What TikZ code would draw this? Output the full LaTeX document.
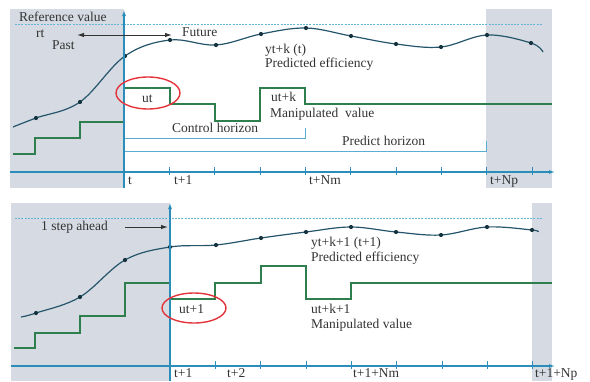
\documentclass[tikz,border=0pt]{standalone}
\usepackage{fontspec}
\setmainfont{Liberation Serif}
\usetikzlibrary{arrows.meta}
\definecolor{pastgray}{HTML}{D6DAE2}
\definecolor{axisblue}{HTML}{2B8DB9}
\definecolor{curveblue}{HTML}{24556B}
\definecolor{stepgreen}{HTML}{2F7F4E}
\definecolor{refblue}{HTML}{62B3D8}
\definecolor{ringred}{HTML}{E2343A}
\definecolor{txt}{HTML}{333333}
\def\dt{45.35}
\def\tip{{Latex[length=7pt,width=4.5pt]}}

\begin{document}
\begin{tikzpicture}[x=1pt,y=-1pt,every node/.style={font=\fontsize{13.5}{16}\selectfont,text=txt,inner sep=0pt,anchor=base west},
  ax/.style={axisblue,line width=1.1pt},
  refline/.style={refblue,line width=0.9pt,dash pattern=on 2pt off 1.2pt},
  outcurve/.style={curveblue,line width=1.2pt},
  ctrl/.style={stepgreen,line width=1.8pt},
  brk/.style={refblue!85!axisblue,line width=1pt},
  ring/.style={ringred,line width=1.4pt},
  ptr/.style={txt,line width=1pt}]
\useasboundingbox (0,0) rectangle (590,381);

%% upper panel: prediction at time t
\fill[pastgray] (10,9) rectangle (124,188);
\fill[pastgray] (486,9) rectangle (552,188);
\draw[refline] (15,24) -- (542,24);
\draw[outcurve] plot[smooth,tension=0.6] coordinates {(13,127) (36,118) (80,102) (125,56) (170,40) (216,45) (261,34) (306,28) (351,36) (396,44) (441,47) (487,35) (531,43) (543,52)};
\foreach \p in {(36,118),(80,102),(125,56),(170,40),(216,45),(261,34),(306,28),(351,36),(396,44),(441,47),(487,35),(531,43)}
  \fill[curveblue!60!black] \p circle (2.1pt);
\draw[ctrl] (13,154) -| (35,138) -| (80,122) -| (124,88) -| (170,104) -| (215,121) -| (260,88) -| (305,104) -- (552,104);
\draw[brk] (124,138) -- (305,138) -- (305,128);
\draw[brk] (124,151) -- (486,151) -- (486,141);
\draw[ax,-{Latex[length=6pt,width=4pt]}] (124,188) -- (124,10);
\draw[ax,-{Latex[length=6pt,width=4pt]}] (10,172) -- (555,172);
\foreach \i in {1,...,9} \draw[ax] ({124+\dt*\i},167) -- ++(0,8);
\draw[ring] (148,93) ellipse [x radius=32pt,y radius=16pt];
\coordinate (pastend) at (77,35);
\coordinate (futend) at (172,35);
\draw[ptr,\tip-\tip] (pastend) -- (futend);

\node (ref) at (19,21) {Reference value};
\node (rt) at (36,37) {rt};
\node (past) at (52,49) {Past};
\node (future) at (182,36.5) {Future};
\node (ut) at (142,102) {ut};
\node (ytk) at (265,53.5) {yt+k (t)};
\node (preda) at (265,67.5) {Predicted efficiency};
\node (utk) at (271,101.5) {ut+k};
\node (mana) at (270,117) {Manipulated~ value};
\node (ctrlh) at (172,132.5) {Control horizon};
\node (predh) at (342,145) {Predict horizon};
\node (lt) at (128,184.5) {t};
\node (lt1) at (174,184.5) {t+1};
\node (ltnm) at (309,184.5) {t+Nm};
\node (ltnp) at (490,184.5) {t+Np};
% <- end upper panel

%% lower panel: one step later
\fill[pastgray] (11,203) rectangle (170,381);
\fill[pastgray] (532,203) rectangle (552,381);
\draw[refline] (15,218) -- (542,218);
\draw[outcurve] plot[smooth,tension=0.6] coordinates {(21,317) (36,313) (80,297) (125,260) (170,247) (216,245) (261,238) (306,232) (351,227) (396,232) (441,235) (487,227) (532,230) (538,232)};
\foreach \p in {(36,313),(80,297),(125,260),(170,247),(216,245),(261,238),(306,232),(351,227),(396,232),(441,235),(487,227),(532,230)}
  \fill[curveblue!60!black] \p circle (2.1pt);
\draw[ctrl] (14,348) -| (35,333) -| (80,316) -| (125,283) -| (170,299) -| (215,283) -| (261,266) -| (306,299) -| (351,283) -- (552,283);
\draw[ax,-{Latex[length=6pt,width=4pt]}] (170,381) -- (170,203);
\draw[ax,-{Latex[length=6pt,width=4pt]}] (11,366) -- (555,366);
\foreach \i in {1,...,8} \draw[ax] ({170+\dt*\i},361) -- ++(0,8);
\draw[ring] (194,308) ellipse [x radius=32pt,y radius=15pt];
\coordinate (stepfrom) at (125,227);
\coordinate (stepto) at (168,227);
\draw[ptr,-\tip] (stepfrom) -- (stepto);

\node (ahead) at (41,230) {1 step ahead};
\node (ytk1) at (311,246) {yt+k+1 (t+1)};
\node (predb) at (311,261) {Predicted efficiency};
\node (ut1) at (179,313) {ut+1};
\node (utk1) at (311,313) {ut+k+1};
\node (manb) at (311,328) {Manipulated value};
\node (lbt1) at (174,377.5) {t+1};
\node (lbt2) at (227,377.5) {t+2};
\node (lbtnm) at (353,377.5) {t+1+Nm};
\node (lbtnp) at (535,377.5) {t+1+Np};
% <- end lower panel
\end{tikzpicture}
\end{document}
